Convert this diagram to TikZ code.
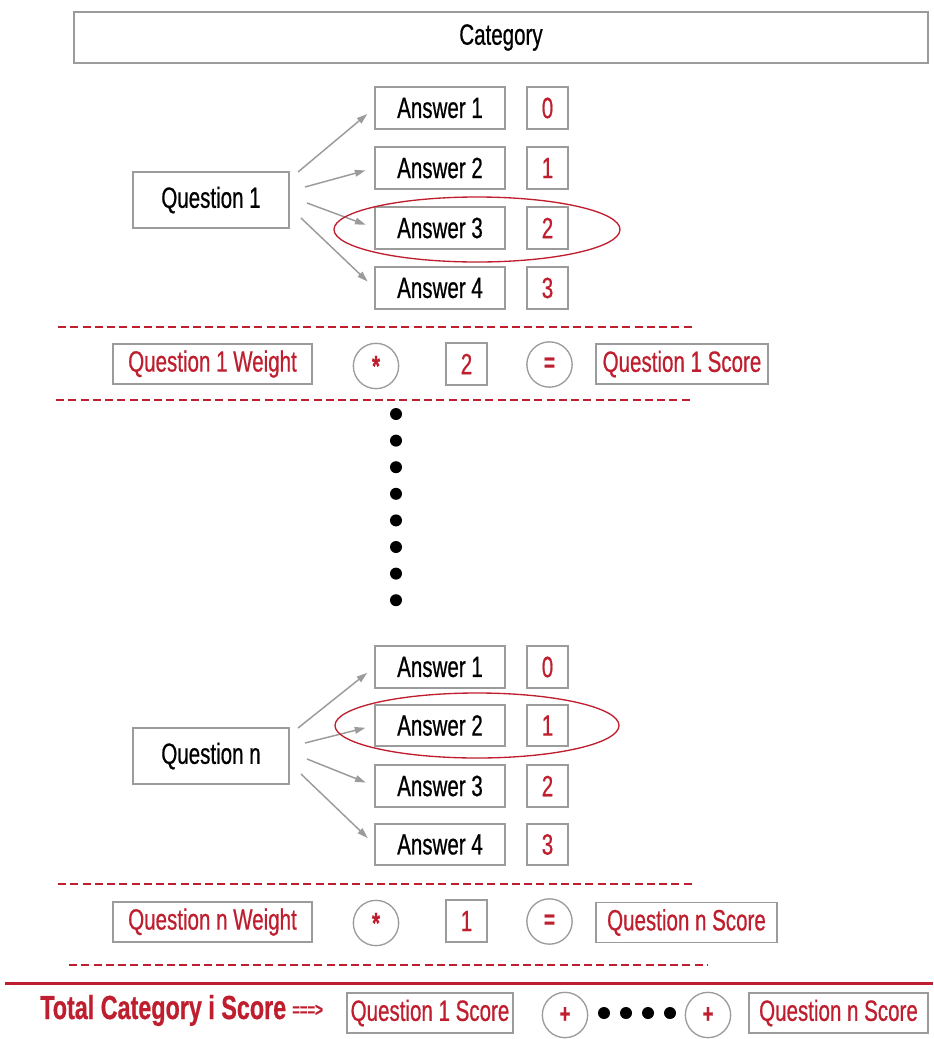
\documentclass[tikz,border=0pt]{standalone}
\usepackage{fontspec}
\setmainfont[FakeStretch=0.7,FakeBold=0.6]{Liberation Sans}
\usetikzlibrary{arrows.meta}

\definecolor{qred}{RGB}{190,30,45}
\definecolor{boxgray}{RGB}{155,155,155}

\tikzset{
  box/.style={draw=boxgray, line width=1.3pt, inner sep=0pt, font=\fontsize{22}{26}\selectfont},
  ansbox/.style={box, minimum width=97pt, minimum height=31pt},
  valbox/.style={box, text=qred, minimum width=31pt, minimum height=31pt},
  qbox/.style={box, minimum width=117pt, minimum height=42pt},
  redbox/.style={box, text=qred, minimum height=30pt},
  opcirc/.style={circle, draw=boxgray, line width=1pt, minimum size=34pt, inner sep=0pt, text=qred, font=\bfseries\fontsize{20}{20}\selectfont},
  arr/.style={draw=boxgray, line width=1.1pt, -{Triangle[length=8pt,width=5pt]}, shorten >=7pt},
  pick/.style={draw=qred, line width=1pt},
  cutline/.style={draw=qred, line width=1.5pt, dash pattern=on 6pt off 3.2pt},
}
\newcommand{\timesstar}{\raisebox{-5pt}{\fontsize{22}{22}\selectfont *}}

\begin{document}
\begin{tikzpicture}[x=0.75pt,y=0.75pt,yscale=-1,xscale=1]
\path[use as bounding box] (0,0) rectangle (933,1039);

% Category header
\node[box, minimum width=640pt, minimum height=38pt] (cat) at (501,37.5) {Category};

%%%% Question 1
\node[qbox] (q1) at (211,200) {Question 1};
\foreach \i/\y in {1/108,2/168,3/228,4/288}{
  \node[ansbox] (a1\i) at (440,\y) {Answer \i};
  \node[valbox] (v1\i) at (547.5,\y) {\number\numexpr\i-1\relax};
}
% arrow tails
\coordinate (t11) at (298,172);
\coordinate (t12) at (305,187);
\coordinate (t13) at (307,203);
\coordinate (t14) at (301,218);
\foreach \i in {1,...,4} \draw[arr] (t1\i) -- (a1\i.west);
% chosen answer
\draw[pick] (477,229.5) ellipse (143 and 32.5);

\draw[cutline] (58,327) -- (695,327);
% Text Node
\node[redbox, minimum width=149pt] (w1) at (212.5,364) {Question 1 Weight};
\node[opcirc] (m1) at (376,366) {\timesstar};
\node[valbox] (r1) at (466.5,364) {2};
\node[opcirc] (e1) at (549.5,364.5) {=};
\node[redbox, minimum width=129pt] (s1) at (682,364) {Question 1 Score};
\draw[cutline] (56,400) -- (692,400);

% vertical dots
\foreach \k in {0,...,7} \fill (396,414+26.6*\k) circle (6);

%%%% Question n
\node[qbox] (qn) at (211,756) {Question n};
\foreach \i/\y in {1/667,2/725.5,3/786,4/844.5}{
  \node[ansbox] (an\i) at (440,\y) {Answer \i};
  \node[valbox] (vn\i) at (547.5,\y) {\number\numexpr\i-1\relax};
}
\coordinate (tn1) at (298,728);
\coordinate (tn2) at (305,743);
\coordinate (tn3) at (307,759);
\coordinate (tn4) at (301,774);
\foreach \i in {1,...,4} \draw[arr] (tn\i) -- (an\i.west);
\draw[pick] (477,725.5) ellipse (142 and 32.5);

\draw[cutline] (58,884) -- (695,884);
% Text Node
\node[redbox, minimum width=149pt] (wn) at (212.5,922) {Question n Weight};
\node[opcirc] (mn) at (376,923) {\timesstar};
\node[valbox] (rn) at (466.5,921) {1};
\node[opcirc] (en) at (549.5,921.5) {=};
\node[redbox, minimum width=136pt] (sn) at (686.5,922.5) {Question n Score};
\draw[cutline] (69,965) -- (707,965);

%%%% Total
\draw[qred, line width=2.25pt] (5,983) -- (933,983);
\node[anchor=base west, inner sep=0pt, text=qred, font=\bfseries\fontsize{25}{29}\selectfont] (tot) at (40,1019) {Total Category i Score};
\node[anchor=base west, inner sep=0pt, text=qred, font=\bfseries\fontsize{14}{16}\selectfont] (imp) at (292,1016) {===>};
\node[redbox, minimum width=125pt] (ts1) at (430,1013) {Question 1 Score};
\node[opcirc] (p1) at (565,1015) {+};
\foreach \k in {0,...,3} \fill (604+22*\k,1013) circle (6);
\node[opcirc] (p2) at (708,1015) {+};
\node[redbox, minimum width=134pt] (tsn) at (838.5,1013) {Question n Score};

\end{tikzpicture}
\end{document}
